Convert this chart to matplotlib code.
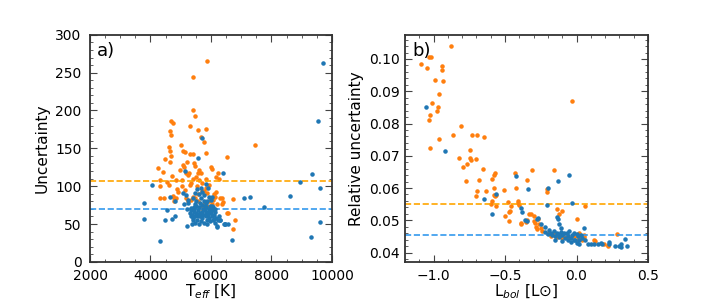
import numpy as np
import matplotlib.pyplot as plt
from matplotlib.ticker import AutoMinorLocator

# panel a) Teff vs uncertainty
teff_orange = [5880, 5400, 5420, 5470, 4680, 4750, 5300, 5560, 5850, 4650, 4680, 5680, 5770,
               4600, 4650, 4680, 4660, 5000, 5080, 5130, 5320, 5400, 4480, 5840, 6530, 7450,
               5200, 5060, 5120, 5450, 4250, 5600, 5660, 6000, 6030, 4420, 4700, 4980, 5180,
               5260, 5560, 5500, 5420, 5850, 5720, 6220, 6160, 6280, 4330, 4560, 4840, 5050,
               4620, 4330, 5310, 5530, 4890, 5050, 5700, 5780, 5820, 5870, 6090, 6160, 6130,
               4920, 4740, 4780, 4850, 4780, 5180, 5230, 5330, 5460, 5560, 4320, 4460, 5770,
               5920, 6020, 6200, 6300, 6370, 6390, 6350, 6740, 5660, 5730, 5860, 5990, 6050,
               6520, 6580, 6800, 6740, 5420, 5560, 5150, 5350, 5620, 5950, 6080, 5250, 5480]
unc_orange = [265, 244, 200, 193, 186, 184, 180, 174, 175, 173, 167, 165, 158,
              152, 146, 140, 132, 154, 147, 145, 142, 142, 136, 144, 139, 154,
              132, 128, 125, 131, 124, 121, 118, 125, 123, 119, 114, 122, 118,
              117, 117, 112, 109, 110, 104, 118, 112, 110, 108, 106, 108, 108,
              101, 100, 101, 100, 96, 100, 94, 94, 98, 91, 90, 92, 86,
              92, 87, 84, 85, 80, 84, 80, 82, 84, 80, 84, 84, 77,
              80, 77, 76, 84, 84, 79, 77, 83, 71, 72, 74, 70, 69,
              65, 65, 55, 44, 86, 90, 95, 104, 108, 102, 82, 115, 127]

teff_blue = [9690, 9550, 5720, 5560, 5150, 6400, 9350, 8950, 4050, 5850, 9620, 8600, 7100,
             7280, 4640, 4800, 3800, 7740, 4560, 4700, 4800, 3780, 4480, 5220, 9300, 9620,
             4330, 6700, 6550, 6450, 6200, 6300, 6100,
             5200, 5250, 5300, 5350, 5380, 5400, 5420, 5430, 5440, 5460, 5480, 5500, 5500,
             5520, 5540, 5560, 5580, 5600, 5600, 5620, 5640, 5650, 5660, 5680, 5700, 5700,
             5720, 5740, 5750, 5760, 5780, 5780, 5800, 5800, 5820, 5840, 5850, 5860, 5870,
             5880, 5900, 5900, 5920, 5940, 5950, 5960, 5980, 6000, 6000, 6020, 6040, 6050,
             6060, 6080, 6100, 6120, 6150, 6180, 6200, 6220, 5380, 5450, 5550, 5620, 5330,
             5250, 5180, 5120, 5060, 5350, 5400, 5470, 5660, 5900, 5700, 6250, 6300, 6420,
             6480, 5480, 5560, 5640, 5820, 5960, 6040, 6120]
unc_blue = [263, 186, 164, 137, 120, 117, 116, 105, 101, 103, 97, 87, 85,
            86, 86, 81, 78, 72, 68, 57, 60, 57, 55, 47, 33, 53,
            27, 29, 50, 50, 46, 55, 57,
            70, 78, 65, 60, 62, 58, 55, 66, 72, 52, 60, 64, 80,
            74, 56, 68, 62, 90, 50, 72, 78, 60, 54, 84, 66, 75,
            58, 70, 62, 88, 52, 80, 68, 74, 60, 64, 72, 56, 50,
            80, 66, 62, 86, 70, 58, 74, 54, 64, 82, 68, 60, 86,
            72, 56, 62, 66, 52, 58, 48, 55, 50, 70, 96, 63, 71,
            82, 88, 76, 91, 68, 85, 91, 98, 97, 92, 60, 56, 50,
            50, 76, 60, 64, 78, 66, 74, 70]

# panel b) Lbol vs relative uncertainty
lbol_orange = [-0.879, -1.088, -1.035, -1.021, -1.047, -0.94, -0.943, -0.99, -0.935, -0.963,
               -1.014, -1.023, -1.033, -0.967, -0.974, -0.963, -1.023, -0.81, -0.863, -0.73,
               -0.698, -0.647, -0.821, -0.744, -0.737, -0.705, -0.767, -0.791, -0.744, -0.772,
               -0.651, -0.681, -0.693, -0.70, -0.63, -0.57, -0.575, -0.59, -0.575, -0.58,
               -0.565, -0.57, -0.59, -0.56, -0.60, -0.51, -0.48, -0.46, -0.465, -0.47,
               -0.50, -0.47, -0.43, -0.42, -0.41, -0.41, -0.40, -0.39, -0.385, -0.355,
               -0.35, -0.345, -0.31, -0.33, -0.32, -0.30, -0.295, -0.29, -0.285, -0.28,
               -0.27, -0.26, -0.25, -0.24, -0.21, -0.21, -0.16, -0.14, -0.12, -0.10,
               -0.20, -0.18, -0.16, -0.14, -0.12, -0.10, -0.08, -0.06, -0.03, -0.02,
               0.0, 0.02, 0.03, 0.04, 0.05, 0.06, 0.05, 0.02, 0.0, 0.01,
               0.12, 0.13, 0.19, 0.22, 0.22, 0.28]
rel_orange = [0.1041, 0.0986, 0.1007, 0.1006, 0.0972, 0.0979, 0.0965, 0.0936, 0.0931, 0.0893,
              0.0863, 0.0827, 0.0812, 0.0851, 0.0838, 0.0752, 0.0725, 0.0793, 0.0764, 0.0764,
              0.0764, 0.0758, 0.0692, 0.0693, 0.0687, 0.0690, 0.0676, 0.0666, 0.0717, 0.0622,
              0.0658, 0.0626, 0.0592, 0.0574, 0.0592, 0.0648, 0.0640, 0.0628, 0.0599, 0.0578,
              0.0578, 0.0575, 0.0560, 0.0545, 0.0550, 0.0594, 0.0556, 0.0545, 0.0530, 0.0527,
              0.0512, 0.0499, 0.0648, 0.0600, 0.0561, 0.0554, 0.0548, 0.0492, 0.0490, 0.0494,
              0.0501, 0.0625, 0.0655, 0.0519, 0.0521, 0.0513, 0.0498, 0.0493, 0.0478, 0.0472,
              0.0505, 0.0490, 0.0477, 0.0466, 0.0598, 0.0587, 0.0655, 0.0535, 0.0518, 0.0530,
              0.0460, 0.0452, 0.0460, 0.0448, 0.0455, 0.0445, 0.0450, 0.0445, 0.0870, 0.0450,
              0.0505, 0.0460, 0.0445, 0.0440, 0.0448, 0.0543, 0.0455, 0.0448, 0.0452, 0.0440,
              0.0440, 0.0436, 0.0425, 0.0420, 0.0423, 0.0458]

lbol_blue = [-1.05, -0.92, -0.65, -0.59, -0.56, -0.42, -0.39, -0.38, -0.36, -0.35,
             -0.34, -0.20, -0.205, -0.13, -0.05, -0.03, -0.27, -0.28, -0.25, -0.22,
             -0.14, -0.13, -0.12, -0.11, 0.05,
             -0.22, -0.20, -0.19, -0.18, -0.17, -0.16, -0.15, -0.14, -0.13, -0.12,
             -0.11, -0.10, -0.09, -0.08, -0.07, -0.06, -0.05, -0.04, -0.03, -0.02,
             -0.01, 0.0, 0.01, 0.02, 0.03, 0.04, -0.06, -0.02, 0.0, 0.06,
             -0.15, -0.10, -0.04, 0.02, 0.08, 0.10, 0.12, 0.15, 0.17, 0.18,
             0.23, 0.23, 0.27, 0.30, 0.31, 0.31, 0.34, 0.35]
rel_blue = [0.0852, 0.0716, 0.0565, 0.0521, 0.0580, 0.0636, 0.0538, 0.0525, 0.0501, 0.0498,
            0.0596, 0.0600, 0.0548, 0.0622, 0.0641, 0.0553, 0.0508, 0.0505, 0.0488, 0.0478,
            0.0510, 0.0505, 0.0490, 0.0475, 0.0475,
            0.0465, 0.0458, 0.0470, 0.0462, 0.0455, 0.0468, 0.0450, 0.0462, 0.0458, 0.0448,
            0.0463, 0.0455, 0.0460, 0.0445, 0.0462, 0.0452, 0.0466, 0.0445, 0.0455, 0.0462,
            0.0440, 0.0458, 0.0450, 0.0438, 0.0455, 0.0446, 0.0440, 0.0438, 0.0430, 0.0440,
            0.0440, 0.0435, 0.0432, 0.0428, 0.0428, 0.0425, 0.0425, 0.0428, 0.0430, 0.0428,
            0.0433, 0.0428, 0.0420, 0.0420, 0.0425, 0.0418, 0.0443, 0.0420]

hline_a = [106.5, 69.5]
hline_b = [0.0549, 0.0455]

fig = plt.figure(figsize=(7.2, 3.0), dpi=100)
ax1 = fig.add_axes([0.125, 0.127, 0.336, 0.757])
ax2 = fig.add_axes([0.5625, 0.127, 0.3375, 0.757])


def style(ax, xminor):
    ax.xaxis.set_minor_locator(AutoMinorLocator(xminor))
    ax.yaxis.set_minor_locator(AutoMinorLocator(5))
    ax.tick_params(which='both', direction='in', top=True, right=True,
                   labelsize=10, color='#444444')
    ax.tick_params(which='major', length=5)
    ax.tick_params(which='minor', length=2.5)
    ax.tick_params(axis='x', pad=5)
    for s in ax.spines.values():
        s.set_linewidth(1.3)
        s.set_color('#333333')


ax1.scatter(teff_orange, unc_orange, s=5, color='C1', zorder=2)
ax1.scatter(teff_blue, unc_blue, s=5, color='C0', zorder=3)
ax1.axhline(hline_a[0], color='orange', ls='--', lw=1.2)
ax1.axhline(hline_a[1], color='#3399ee', ls='--', lw=1.2)
ax1.set_xlim(2000, 10000)
ax1.set_ylim(0, 300)
ax1.set_xlabel('T$_{eff}$ [K]', fontsize=11, labelpad=0)
ax1.set_ylabel('Uncertainty', fontsize=11)
ax1.text(0.03, 0.97, 'a)', transform=ax1.transAxes, fontsize=13, va='top')
style(ax1, 4)
ax1.tick_params(axis='y', pad=6)

ax2.scatter(lbol_orange, rel_orange, s=5, color='C1', zorder=2)
ax2.scatter(lbol_blue, rel_blue, s=5, color='C0', zorder=3)
ax2.axhline(hline_b[0], color='orange', ls='--', lw=1.2)
ax2.axhline(hline_b[1], color='#3399ee', ls='--', lw=1.2)
ax2.set_xlim(-1.2, 0.5)
ax2.set_ylim(0.0371, 0.1075)
ax2.set_xlabel('L$_{bol}$ [L\u2299]', fontsize=11, labelpad=0)
ax2.set_ylabel('Relative uncertainty', fontsize=11)
ax2.text(0.03, 0.97, 'b)', transform=ax2.transAxes, fontsize=13, va='top')
style(ax2, 5)

fig.savefig('out.png', dpi=100)
